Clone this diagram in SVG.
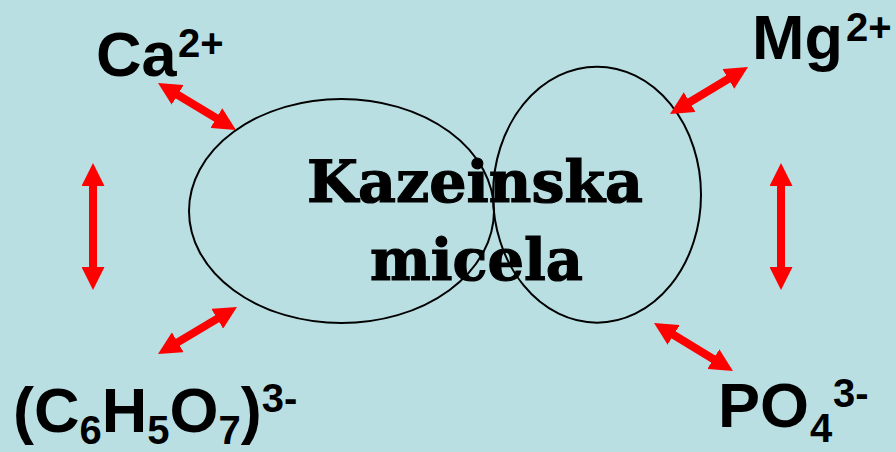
<svg xmlns="http://www.w3.org/2000/svg" width="896" height="452" viewBox="0 0 896 452">
<style>
.ion{font-family:"Liberation Sans",Arial,sans-serif;font-weight:bold;fill:#000;font-size:63px}
.sm{font-size:40px}
.title{font-family:"DejaVu Serif","Liberation Serif",serif;font-weight:bold;fill:#000;stroke:#000;stroke-width:1.2;font-size:58px}
.cell{fill:none;stroke:#000;stroke-width:2}
.arr{stroke:#FF0000;stroke-width:8;fill:none;marker-start:url(#head);marker-end:url(#head)}
</style>
<defs>
<marker id="head" markerUnits="userSpaceOnUse" markerWidth="23" markerHeight="23" viewBox="0 0 23 23" refX="8" refY="11.5" orient="auto-start-reverse">
<path d="M0,0 L23,11.5 L0,23 z" fill="#FF0000"/>
</marker>
</defs>
<rect x="0" y="0" width="896" height="452" fill="#B9DFE3"/>
<g id="micela">
<ellipse class="cell" cx="341.5" cy="211" rx="152.5" ry="112"/>
<ellipse class="cell" cx="597" cy="194.7" rx="104" ry="128"/>
<text class="title" x="475" y="202" text-anchor="middle" textLength="336" lengthAdjust="spacingAndGlyphs">Kazeinska</text>
<text class="title" x="476.5" y="280" text-anchor="middle" textLength="213" lengthAdjust="spacingAndGlyphs">micela</text>
</g>
<g id="ca">
<text class="ion"><tspan x="96" y="76">Ca</tspan><tspan class="sm" x="178" y="57">2+</tspan></text>
</g>
<g id="mg">
<text class="ion"><tspan x="752" y="59">Mg</tspan><tspan class="sm" x="846" y="41">2+</tspan></text>
</g>
<g id="citrate">
<text class="ion" x="13" y="432">(C<tspan class="sm" dy="12">6</tspan><tspan dy="-12">H</tspan><tspan class="sm" dy="12">5</tspan><tspan dy="-12">O</tspan><tspan class="sm" dy="12">7</tspan><tspan dy="-12">)</tspan><tspan class="sm" dy="-20">3-</tspan></text>
</g>
<g id="po4">
<text class="ion"><tspan x="718" y="427">PO</tspan><tspan class="sm" x="810" y="442">4</tspan><tspan class="sm" x="833" y="407">3-</tspan></text>
</g>
<g id="connectors">
<line class="arr" x1="170.85" y1="90.74" x2="223.15" y2="122.26"/>
<line class="arr" x1="735.15" y1="74.74" x2="682.85" y2="106.26"/>
<line class="arr" x1="224.11" y1="314.67" x2="170.89" y2="346.33"/>
<line class="arr" x1="666.82" y1="330.79" x2="720.18" y2="363.21"/>
<line class="arr" x1="93" y1="178" x2="93" y2="275"/>
<line class="arr" x1="781" y1="178" x2="781" y2="275"/>
</g>
</svg>
